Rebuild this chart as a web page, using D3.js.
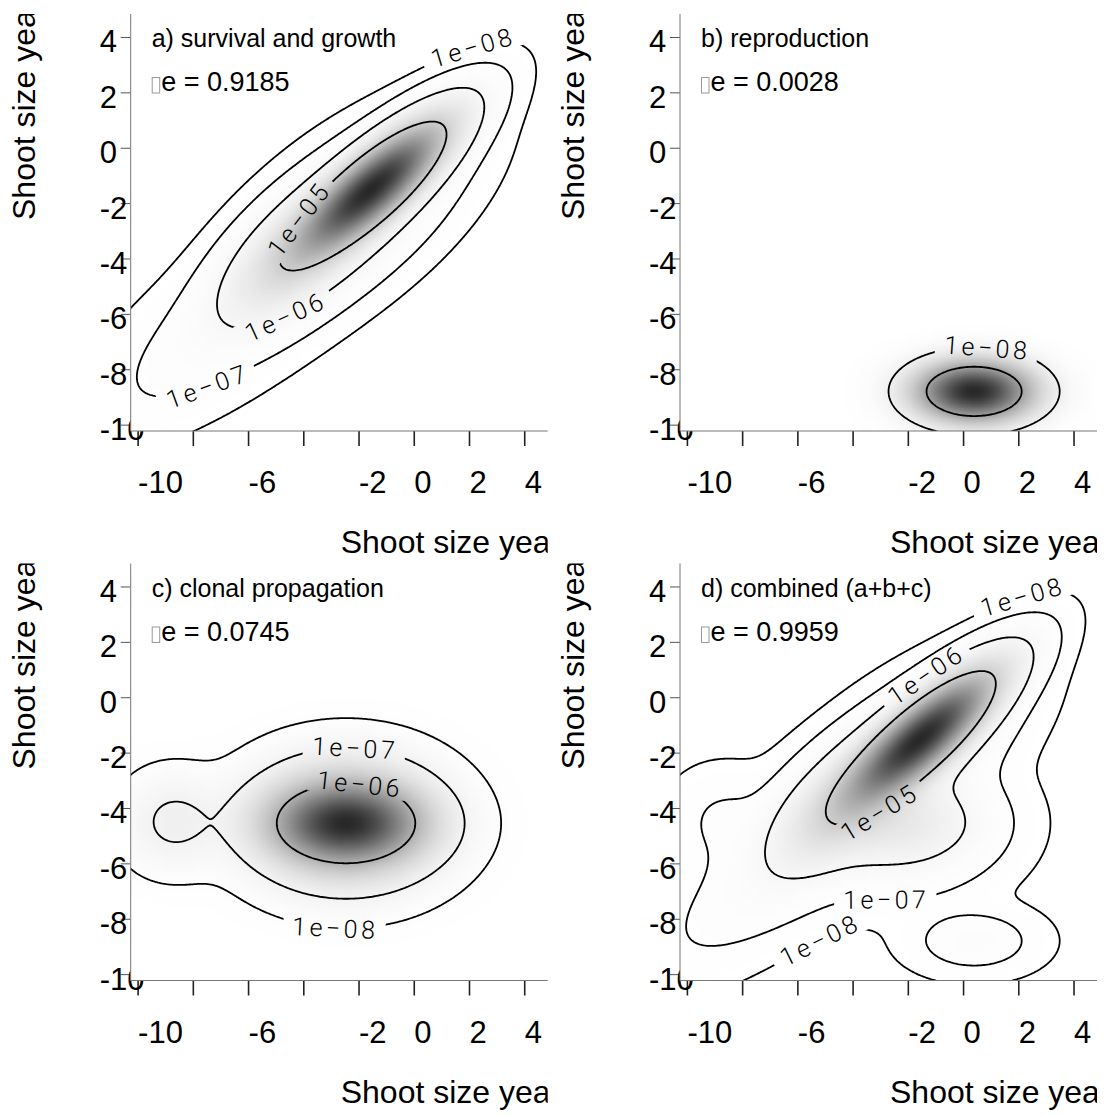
<html>
<head>
<meta charset="utf-8">
<style>
body { margin: 0; background: #fff; }
</style>
</head>
<body>
<svg id="plot" width="1107" height="1116"></svg>
<script src="https://d3js.org/d3.v7.min.js"></script>
<script>

// ticks as they appear on every panel
var xTicks = [-10, -8, -6, -4, -2, 0, 2, 4];
var xTickLabels = [-10, -6, -2, 0, 2, 4];
var yTicks = [4, 2, 0, -2, -4, -6, -8, -10];

// contour levels and their printed labels
var levels = [1e-8, 1e-7, 1e-6, 1e-5];
var levelNames = ["1e\u221208", "1e\u221207", "1e\u221206", "1e\u221205"];

// kernel pieces:
// centre x, centre y, sd along, sd across, angle (deg), peak height
var survival = [
    [-1.5, -1.45, 1.8, 0.58, 41, 6e-5],
    [-4.0, -3.6, 1.8, 0.8, 41, 7e-6],
    [-2.2, -2.4, 2.25, 1.05, 38, 1.4e-6],
    [-5.8, -5.7, 3.2, 1.05, 36, 3.5e-7]
];
var reproduction = [
    [0.4, -8.8, 1.2, 0.62, 0, 2.8e-7]
];
var clonal = [
    [-2.45, -4.55, 1.5, 0.8, 0, 2.5e-6],
    [-2.45, -4.55, 1.8, 1.25, 0, 1e-6],
    [-8.7, -4.5, 1.05, 1.0, 0, 1.25e-7],
    [-6.5, -4.5, 1.2, 0.9, 0, 1.2e-8]
];

var titles = ["a) survival and growth", "b) reproduction", "c) clonal propagation", "d) combined (a+b+c)"];
var lambdas = ["0.9185", "0.0028", "0.0745", "0.9959"];

// where the contour labels sit: level index, x, y
var labelsA = [[0, 2.17, 3.44], [3, -3.93, -2.76], [2, -4.77, -5.84], [1, -7.55, -8.43]];
var labelsB = [[0, 0.82, -7.71]];
var labelsC = [[1, -2.13, -1.81], [2, -2.01, -3.56], [0, -2.85, -8.26]];
var labelsD = [[0, 2.19, 3.55], [2, -1.43, 0.9], [3, -3.18, -3.86], [1, -2.76, -7.48], [0, -4.88, -9.35]];

var W = 417, H = 417;
var origins = [[130.7, 14], [680, 14], [130.7, 563.5], [680, 563.5]];
var font = "'Liberation Sans', Arial, sans-serif";

var xScale = d3.scaleLinear().domain([-10.25, 4.85]).range([0, W]);
var yScale = d3.scaleLinear().domain([-10.23, 4.83]).range([H, 0]);

var svg = d3.select("#plot");
var defs = svg.append("defs");

var density = function(comps, x, y)
{
    var s = 0;
    comps.forEach(function(c)
    {
        var a = c[4] * Math.PI / 180;
        var dx = x - c[0], dy = y - c[1];
        var u = dx * Math.cos(a) + dy * Math.sin(a);
        var v = -dx * Math.sin(a) + dy * Math.cos(a);
        s += c[5] * Math.exp(-0.5 * (u * u / (c[2] * c[2]) + v * v / (c[3] * c[3])));
    });
    return s;
}

var drawPanel = function(k, comps, labelSpots)
{
    var g = svg.append("g")
        .attr("transform", "translate(" + origins[k][0] + "," + origins[k][1] + ")");

    defs.append("clipPath").attr("id", "outer" + k)
        .append("rect").attr("x", -140).attr("y", 0).attr("width", W + 140).attr("height", 560);
    defs.append("clipPath").attr("id", "inner" + k)
        .append("rect").attr("width", W).attr("height", H);

    var outer = g.append("g").attr("clip-path", "url(#outer" + k + ")");

    // axis titles (cut off by the panel edge, as in the original)
    outer.append("text")
        .attr("x", 210).attr("y", 539)
        .attr("font-family", font).attr("font-size", 32)
        .text("Shoot size year t");
    outer.append("text")
        .attr("transform", "translate(-96,206) rotate(-90)")
        .attr("font-family", font).attr("font-size", 32)
        .text("Shoot size year t+1");

    // axes (ticks and labels)
    var xAxis = d3.axisBottom(xScale).tickValues(xTicks).tickSize(15).tickSizeOuter(0)
        .tickFormat(function(d) { return xTickLabels.indexOf(d) >= 0 ? String(d) : ""; });
    var gx = outer.append("g").attr("transform", "translate(0," + H + ")").call(xAxis);
    gx.attr("font-family", font).attr("font-size", 31);
    gx.select(".domain").remove();
    gx.selectAll(".tick line").attr("stroke", "#222").attr("stroke-width", 1.6);
    gx.selectAll(".tick text")
        .attr("text-anchor", "start").attr("y", 62).attr("dy", null).attr("fill", "#000");

    var yAxis = d3.axisLeft(yScale).tickValues(yTicks).tickSize(10).tickSizeOuter(0)
        .tickFormat(function(d) { return String(d); });
    var gy = outer.append("g").call(yAxis);
    gy.attr("font-family", font).attr("font-size", 31);
    gy.select(".domain").remove();
    gy.selectAll(".tick line").attr("stroke", "#555").attr("stroke-width", 1);
    gy.selectAll(".tick text")
        .attr("text-anchor", "start").attr("x", -31).attr("y", 15).attr("dy", null).attr("fill", "#000");

    // plot area
    g.append("rect").attr("width", W).attr("height", H).attr("fill", "#fff");

    // grey image
    var N = 110;
    var cells = [];
    var maxD = 0;
    for (var j = 0; j < N; j++)
        for (var i = 0; i < N; i++)
        {
            var vx = xScale.invert((i + 0.5) * W / N);
            var vy = yScale.invert((j + 0.5) * H / N);
            var d = density(comps, vx, vy);
            cells.push(d);
            if (d > maxD) maxD = d;
        }
    var canvas = document.createElement("canvas");
    canvas.width = N; canvas.height = N;
    var ctx = canvas.getContext("2d");
    var img = ctx.createImageData(N, N);
    cells.forEach(function(d, idx)
    {
        var c = Math.round(255 - 215 * Math.pow(d / maxD, 0.8));
        img.data[idx * 4] = c;
        img.data[idx * 4 + 1] = c;
        img.data[idx * 4 + 2] = c;
        img.data[idx * 4 + 3] = 255;
    });
    ctx.putImageData(img, 0, 0);
    g.append("image")
        .attr("width", W).attr("height", H)
        .attr("preserveAspectRatio", "none")
        .attr("href", canvas.toDataURL());

    // contour grid, a bit larger than the plot so edges fall outside
    var x0 = -12.5, y0 = -12.5, st = 0.06;
    var nx = Math.round(19 / st) + 1, ny = nx;
    var values = new Array(nx * ny);
    for (var j = 0; j < ny; j++)
        for (var i = 0; i < nx; i++)
            values[j * nx + i] = density(comps, x0 + i * st, y0 + j * st);

    var toPx = function(p)
    {
        return [xScale(x0 + (p[0] - 0.5) * st), yScale(y0 + (p[1] - 0.5) * st)];
    }

    var contours = d3.contours().size([nx, ny]).thresholds(levels)(values);
    var plotG = g.append("g").attr("clip-path", "url(#inner" + k + ")");
    var labelG = plotG.append("g");

    contours.forEach(function(c, li)
    {
        var rings = [];
        c.coordinates.forEach(function(poly)
        {
            poly.forEach(function(ring) { rings.push(ring.map(toPx)); });
        });

        var spots = labelSpots.filter(function(s) { return s[0] == li; });
        var maskId = null;
        if (spots.length > 0)
        {
            maskId = "m" + k + "_" + li;
            var mask = defs.append("mask").attr("id", maskId)
                .attr("maskUnits", "userSpaceOnUse")
                .attr("x", -50).attr("y", -50).attr("width", W + 100).attr("height", H + 100);
            mask.append("rect")
                .attr("x", -50).attr("y", -50).attr("width", W + 100).attr("height", H + 100)
                .attr("fill", "#fff");

            spots.forEach(function(s)
            {
                var tx = xScale(s[1]), ty = yScale(s[2]);
                var best = null, bestD = Infinity;
                rings.forEach(function(r, ri)
                {
                    r.forEach(function(p, pi)
                    {
                        var dd = (p[0] - tx) * (p[0] - tx) + (p[1] - ty) * (p[1] - ty);
                        if (dd < bestD) { bestD = dd; best = [ri, pi]; }
                    });
                });
                if (!best) return;
                var r = rings[best[0]], n = r.length;
                var p = r[best[1]];
                var a = r[(best[1] - 8 + n) % n], b = r[(best[1] + 8) % n];
                var ang = Math.atan2(b[1] - a[1], b[0] - a[0]) * 180 / Math.PI;
                if (ang > 90) ang -= 180;
                if (ang < -90) ang += 180;

                var t = labelG.append("text")
                    .attr("transform", "translate(" + p[0] + "," + p[1] + ") rotate(" + ang + ")")
                    .attr("text-anchor", "middle")
                    .attr("dy", "0.36em")
                    .attr("font-family", "Roboto, 'DejaVu Sans', sans-serif")
                    .attr("font-weight", 300)
                    .attr("font-size", 25)
                    .attr("letter-spacing", 3.5)
                    .text(levelNames[li]);
                var len = t.node().getComputedTextLength();
                mask.append("rect")
                    .attr("x", -len / 2 - 9).attr("y", -12)
                    .attr("width", len + 16).attr("height", 24)
                    .attr("fill", "#000")
                    .attr("transform", "translate(" + p[0] + "," + p[1] + ") rotate(" + ang + ")");
            });
        }

        var line = d3.line();
        var path = plotG.insert("path", function() { return labelG.node(); })
            .attr("d", rings.map(function(r) { return line(r) + "Z"; }).join(""))
            .attr("fill", "none")
            .attr("stroke", "#000")
            .attr("stroke-width", 1.8)
            .attr("stroke-linejoin", "round");
        if (maskId) path.attr("mask", "url(#" + maskId + ")");
    });

    // axis lines
    g.append("line").attr("x1", 0).attr("y1", 0).attr("x2", 0).attr("y2", H)
        .attr("stroke", "#777").attr("stroke-width", 1);
    g.append("line").attr("x1", 0).attr("y1", H).attr("x2", W).attr("y2", H)
        .attr("stroke", "#777").attr("stroke-width", 1);

    // panel title and lambda
    g.append("text")
        .attr("x", 21).attr("y", 33.3)
        .attr("font-family", font).attr("font-size", 25)
        .text(titles[k]);
    g.append("rect")
        .attr("x", 21.5).attr("y", 63.5).attr("width", 7.5).attr("height", 15.5)
        .attr("fill", "none").attr("stroke", "#999").attr("stroke-width", 1);
    g.append("text")
        .attr("x", 30.5).attr("y", 77.3)
        .attr("font-family", font).attr("font-size", 27)
        .text("e = " + lambdas[k]);
}

drawPanel(0, survival, labelsA);
drawPanel(1, reproduction, labelsB);
drawPanel(2, clonal, labelsC);
drawPanel(3, survival.concat(reproduction, clonal), labelsD);

</script>
</body>
</html>
